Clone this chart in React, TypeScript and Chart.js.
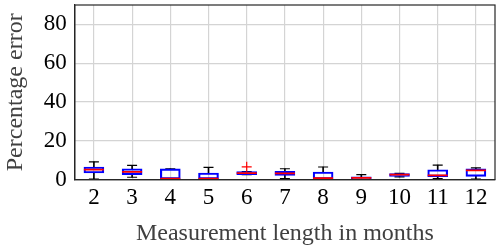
import React, { useEffect, useRef } from "react";
import { Chart, registerables } from "chart.js";
Chart.register(...registerables);

const months = ["2", "3", "4", "5", "6", "7", "8", "9", "10", "11", "12"];
const whiskerLow = [0.2, 1.2, 0, 0, 2.6, 0.5, 0, 0, 1.4, 0.5, 0.3];
const q1 = [3.4, 2.6, 0, 0, 2.6, 2.2, 0.3, 0.2, 1.7, 1.5, 1.7];
const median = [5.1, 4.0, 0.5, 0.5, 3.3, 3.2, 0.8, 0.9, 2.6, 2.2, 4.8];
const q3 = [6.5, 5.6, 5.5, 3.4, 4.1, 4.3, 3.9, 1.4, 3.1, 5.1, 5.6];
const whiskerHigh = [9.1, 7.3, 5.5, 6.3, 4.1, 5.6, 6.5, 2.6, 3.2, 7.5, 6.0];
const outliers = [null, null, null, null, 6.6, null, null, null, null, null, null];
const yTicks = [0, 20, 40, 60, 80];

const FONT = "'Liberation Serif', 'Times New Roman', serif";
const AX = "#262626";

const frame = {
  id: "frame",
  afterDraw(chart: any) {
    const { ctx, chartArea: a } = chart;
    ctx.save();
    ctx.strokeStyle = AX;
    ctx.lineWidth = 1.2;
    ctx.strokeRect(a.left, a.top, a.right - a.left, a.bottom - a.top);
    ctx.restore();
  },
};

export default function App() {
  const ref = useRef<HTMLCanvasElement | null>(null);
  useEffect(() => {
    if (!ref.current) return;
    const chart = new Chart(ref.current, {
      type: "bar",
      data: {
        labels: months,
        datasets: [
          {
            type: "bar",
            data: months.map((_, i) => [q3[i], whiskerHigh[i]]) as any,
            backgroundColor: "#000000",
            barThickness: 1,
            grouped: false,
            order: 10,
          } as any,
          {
            type: "bar",
            data: months.map((_, i) => [whiskerLow[i], q1[i]]) as any,
            backgroundColor: "#000000",
            barThickness: 1,
            grouped: false,
            order: 10,
          } as any,
          {
            type: "line",
            data: whiskerHigh,
            showLine: false,
            pointStyle: "line",
            pointRadius: 5,
            borderColor: "#000000",
            borderWidth: 1.2,
            order: 7,
          } as any,
          {
            type: "line",
            data: whiskerLow,
            showLine: false,
            pointStyle: "line",
            pointRadius: 5,
            borderColor: "#000000",
            borderWidth: 1.2,
            order: 7,
          } as any,
          {
            type: "bar",
            data: months.map((_, i) => [q1[i], q3[i]]) as any,
            backgroundColor: "rgba(0,0,0,0)",
            borderColor: "#0000ff",
            borderWidth: 1.5,
            borderSkipped: false,
            barThickness: 20,
            grouped: false,
            order: 5,
          } as any,
          {
            type: "line",
            data: median,
            showLine: false,
            pointStyle: "line",
            pointRadius: 10,
            borderColor: "#ff0000",
            borderWidth: 1.8,
            order: 2,
          } as any,
          {
            type: "line",
            data: outliers,
            showLine: false,
            pointStyle: "cross",
            pointRadius: 5,
            borderColor: "#ff0000",
            borderWidth: 1.2,
            order: 1,
          } as any,
        ],
      },
      options: {
        animation: false,
        responsive: false,
        maintainAspectRatio: false,
        layout: { autoPadding: false, padding: { top: 5, right: 5, left: 1, bottom: 2 } },
        plugins: { legend: { display: false }, tooltip: { enabled: false } },
        scales: {
          x: {
            type: "category",
            offset: true,
            afterFit: (s: any) => {
              s.paddingLeft = 0;
              s.paddingRight = 0;
            },
            grid: { offset: false, color: "#d4d4d4", lineWidth: 1.2, drawTicks: false },
            border: { color: AX, width: 1.2 },
            ticks: { color: "#000", font: { family: FONT, size: 23 }, padding: 5, maxRotation: 0, autoSkip: false },
            title: {
              display: true,
              text: "Measurement length in months",
              color: "#404040",
              font: { family: FONT, size: 24 },
              padding: { top: 2, bottom: 0 },
            },
          },
          y: {
            min: 0,
            max: 90,
            afterBuildTicks: (s: any) => {
              s.ticks = yTicks.map((v) => ({ value: v }));
            },
            afterFit: (s: any) => {
              s.paddingTop = 0;
            },
            grid: { color: "#d4d4d4", lineWidth: 1.2, drawTicks: false },
            border: { color: AX, width: 1.2 },
            ticks: { color: "#000", font: { family: FONT, size: 23 }, padding: 8 },
            title: {
              display: true,
              text: "Percentage error",
              color: "#404040",
              font: { family: FONT, size: 24 },
              padding: { top: 0, bottom: 6 },
            },
          },
        },
      } as any,
      plugins: [frame],
    });
    return () => chart.destroy();
  }, []);
  return (
    <div style={{ position: "fixed", left: 0, top: 0, width: 500, height: 250, background: "#fff" }}>
      <canvas ref={ref} width={500} height={250} style={{ width: 500, height: 250 }} />
    </div>
  );
}
